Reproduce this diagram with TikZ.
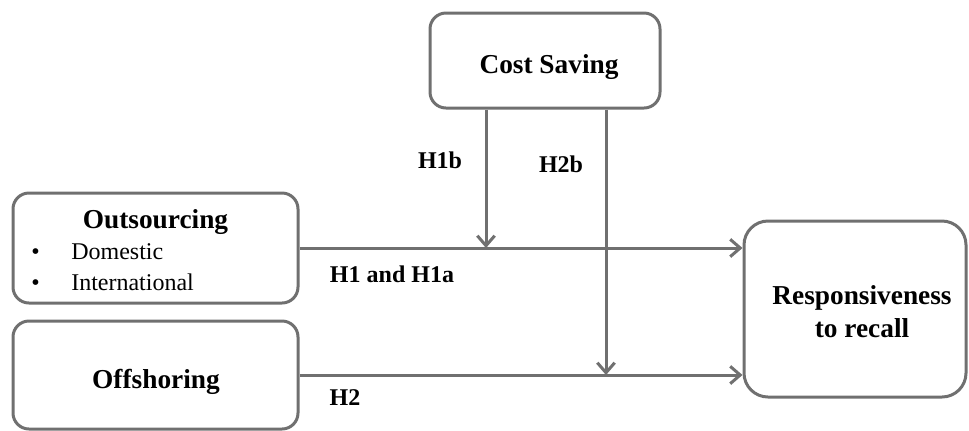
\documentclass[tikz,border=0pt]{standalone}
\usepackage{fontspec}
\setmainfont{Liberation Serif}
\usepackage{tikz}
\usetikzlibrary{arrows.meta,positioning}
\definecolor{linegray}{RGB}{112,112,112}
\tikzstyle{box} = [draw=linegray, line width=2.25pt, rounded corners=12pt]
\tikzstyle{title} = [font=\fontsize{20.5}{24.75}\selectfont\bfseries, anchor=base, inner sep=0pt]
\tikzstyle{hyp} = [font=\fontsize{18}{21}\selectfont\bfseries, inner sep=0pt]
\tikzstyle{item} = [font=\fontsize{18}{21}\selectfont, anchor=base west, inner sep=0pt]
\tikzstyle{arrow} = [draw=linegray, line width=2.25pt, -{Straight Barb[length=7.5pt,width=13pt]}]

\begin{document}
\begin{tikzpicture}[x=0.75pt,y=-0.75pt]
	\useasboundingbox (0,0) rectangle (969,430);

	% Boxes:
	\node[box, minimum width=172.5pt, minimum height=71.25pt] (cost) at (545,60.5) {};
	\node[box, minimum width=213.75pt, minimum height=82.5pt] (out) at (155.5,248) {};
	\node[box, minimum width=213.75pt, minimum height=81pt] (off) at (155.5,375) {};
	\node[box, rounded corners=18pt, minimum width=166.5pt, minimum height=132pt] (resp) at (855,309) {};

	% Box texts:
	\node[title] (costtxt) at (549,73) {Cost Saving};
	\node[title] (outtxt) at (155.5,228) {Outsourcing};
	\node[item, anchor=base] (dot1) at (35.5,259) {\textbullet};
	\node[item] (dom) at (71,259) {Domestic};
	\node[item, anchor=base] (dot2) at (35.5,290) {\textbullet};
	\node[item] (intl) at (71,290) {International};
	\node[title] (offtxt) at (156,388) {Offshoring};
	\node[title, align=center] (resptxt) at (862,337) {Responsiveness\\to recall};

	% Hypotheses:
	\node[hyp] (h1blabel) at (440,160) {H1b};
	\node[hyp] (h2blabel) at (561,164) {H2b};
	\node[hyp] (h1label) at (392,274) {H1 and H1a};
	\node[hyp] (h2label) at (345,398) {H2};

	% Arrows:
	\coordinate (h1bend) at (486,248);
	\coordinate (h2bend) at (606,375);
	\draw[arrow] (out.east) -- (out.east -| resp.west);
	\draw[arrow] (off.east) -- (off.east -| resp.west);
	\draw[arrow] (cost.south -| h1bend) -- (h1bend);
	\draw[arrow] (cost.south -| h2bend) -- (h2bend);
\end{tikzpicture}
\end{document}
